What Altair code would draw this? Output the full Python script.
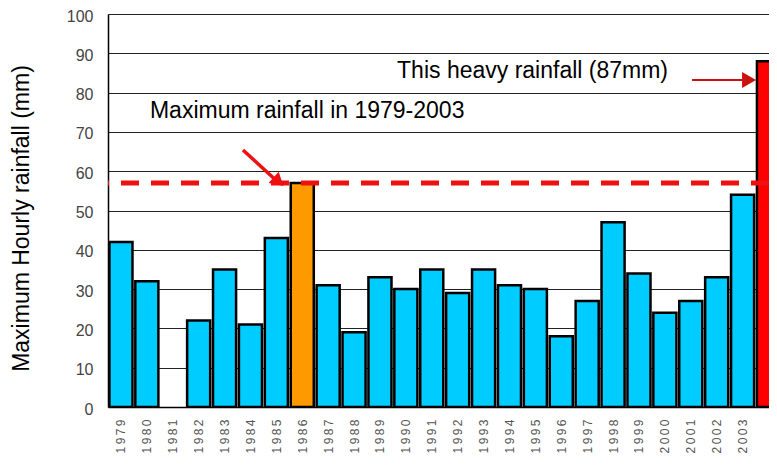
import altair as alt
import pandas as pd

# ---- data ----
years = list(range(1979, 2005))
rain = [42, 32, None, 22, 35, 21, 43, 57, 31, 19, 33, 30, 35, 29, 35, 31, 30, 18, 27, 47, 34, 24, 27, 33, 54, 88]
kinds = ["normal"] * 7 + ["max"] + ["normal"] * 17 + ["heavy"]
label_years = list(range(1979, 2004))
y_ticks = list(range(0, 101, 10))
max_level = [57]

# annotations (data coordinates)
note_text = ["Maximum rainfall in 1979-2003", "This heavy rainfall (87mm)"]
note_x = [1980.12, 1989.66]
note_y = [75.4, 85.4]

arrow1 = {"x": 2001.05, "x2": 2003.0, "y": 83.2, "hx": 2003.25}
arrow2 = {"x": 1983.71, "x2": 1984.9, "y": 65.4, "y2": 58.2, "hx": 1985.02, "hy": 57.7}

df = pd.DataFrame({"year": years, "rain": rain, "kind": kinds}).dropna()

W, H = 661, 393
xdom = [1978.5, 2004.02]
xs = alt.Scale(domain=xdom, nice=False, zero=False)
ys = alt.Scale(domain=[0, 100], nice=False)

FONT = "Liberation Sans"

XAX = alt.Axis(
    values=label_years, title=None, grid=False, ticks=False,
    domain=True, domainColor="black", domainWidth=1.5,
    labelAngle=270, labelPadding=12, labelFont=FONT, labelFontSize=12,
    labelColor="#555555", labelOverlap=False, labelFlush=False,
    labelExpr="join(split(toString(datum.value), ''), '\u2009')")
YAX = alt.Axis(
    values=y_ticks, title="Maximum Hourly rainfall (mm)",
    titleFont=FONT, titleFontSize=23, titleFontWeight="normal", titleColor="black",
    titleX=-75, titleY=204, titleAngle=270, titleAlign="center", titleBaseline="bottom",
    grid=True, gridColor="#222222", gridWidth=1, ticks=False,
    domain=True, domainColor="black", domainWidth=1.5,
    labelFont=FONT, labelFontSize=16, labelColor="#444444", labelPadding=15,
    labelOffset=2, labelOverlap=False, labelFlush=False)


def X(f):
    return alt.X(f, scale=xs, axis=XAX)


def Y(f):
    return alt.Y(f, scale=ys, axis=YAX)


bars = alt.Chart(df).transform_calculate(
    x0="datum.year - 0.445", x1="datum.year + 0.445"
).mark_bar(stroke="black", strokeWidth=2.5, clip=True).encode(
    x=X("x0:Q"), x2="x1:Q",
    y=Y("rain:Q"), y2=alt.datum(0),
    color=alt.Color("kind:N", scale=alt.Scale(domain=["normal", "max", "heavy"],
                                              range=["#00CCFF", "#FF9900", "#FF0000"]),
                    legend=None),
)

rule = alt.Chart(pd.DataFrame({"v": max_level})).mark_rule(
    color="#EE1111", strokeWidth=5, strokeDash=[18, 12]
).encode(y=Y("v:Q"))

texts = alt.Chart(pd.DataFrame({"t": note_text, "x": note_x, "y": note_y})).mark_text(
    align="left", baseline="middle", font=FONT, fontSize=23, color="black"
).encode(x=X("x:Q"), y=Y("y:Q"), text="t:N")

a1_line = alt.Chart(pd.DataFrame([arrow1])).mark_rule(color="#CC1111", strokeWidth=2).encode(
    x=X("x:Q"), x2="x2:Q", y=Y("y:Q"))
a1_head = alt.Chart(pd.DataFrame([arrow1])).mark_point(
    shape="triangle-right", size=260, filled=True, color="#CC1111", opacity=1
).encode(x=X("hx:Q"), y=Y("y:Q"))

a2_line = alt.Chart(pd.DataFrame([arrow2])).mark_rule(color="#EE1111", strokeWidth=3.5).encode(
    x=X("x:Q"), x2="x2:Q", y=Y("y:Q"), y2="y2:Q")
a2_head = alt.Chart(pd.DataFrame([arrow2])).mark_point(
    shape="triangle", angle=132, size=230, filled=True, color="#EE1111", opacity=1
).encode(x=X("hx:Q"), y=Y("hy:Q"))

chart = alt.layer(bars, rule, a1_line, a1_head, a2_line, a2_head, texts).properties(
    width=W, height=H,
    autosize=alt.AutoSizeParams(type="none"),
    padding={"left": 100, "top": 6, "right": 0, "bottom": 50},
).configure_view(stroke=None).configure(background="white")

chart.save("out.html", embed_options={"renderer": "svg", "actions": False})
